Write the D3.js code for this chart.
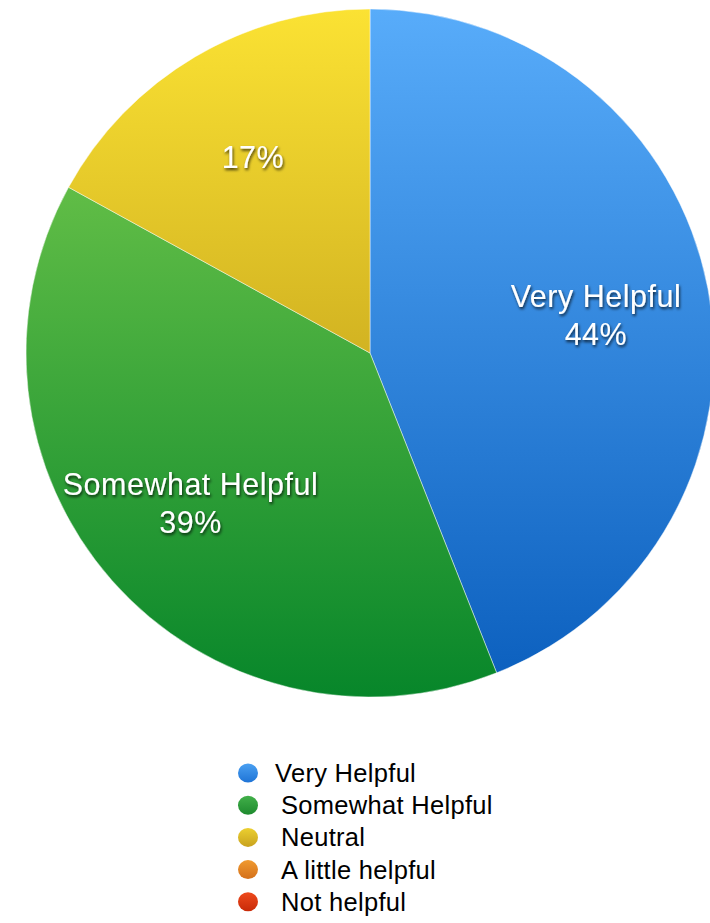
<!DOCTYPE html>
<html>
<head>
<meta charset="utf-8">
<script src="https://cdn.jsdelivr.net/npm/d3@7"></script>
<style>
  html, body { margin: 0; padding: 0; background: #fff; }
  svg { display: block; }
</style>
</head>
<body>
<svg id="chart" width="710" height="923"></svg>
<script>
// Survey answers and their shares (percent)
const categories = ["Very Helpful", "Somewhat Helpful", "Neutral", "A little helpful", "Not helpful"];
const values = [44, 39, 17, 0, 0];
// Gradient colour pairs (top, bottom) per category
const topColors = ["#58acfa", "#80d050", "#fbe233", "#f29a30", "#ee4a1c"];
const bottomColors = ["#0a5ebd", "#07862a", "#a98410", "#d8701a", "#cc2a08"];
// Legend dot colours (top, bottom)
const dotTop = ["#4aa0f2", "#42b04a", "#ecd030", "#f09a30", "#ee4a1c"];
const dotBottom = ["#1f74d6", "#1e8a2e", "#c8a21e", "#d4701a", "#c82a08"];

const W = 710, H = 923;
const cx = 370, cy = 353, r = 344;
const labelR = 230;
// small per-label nudges [dx, dy of first baseline]
const labelNudge = [[0, -3], [-7, -10], [0, 13], [0, 0], [0, 0]];

const svg = d3.select("#chart");
const defs = svg.append("defs");

categories.forEach((c, i) => {
  const g = defs.append("linearGradient")
    .attr("id", "slice" + i)
    .attr("gradientUnits", "userSpaceOnUse")
    .attr("x1", 0).attr("x2", 0)
    .attr("y1", -r).attr("y2", r);
  g.append("stop").attr("offset", "0%").attr("stop-color", topColors[i]);
  g.append("stop").attr("offset", "100%").attr("stop-color", bottomColors[i]);

  const d = defs.append("linearGradient")
    .attr("id", "dot" + i)
    .attr("x1", 0).attr("x2", 0).attr("y1", 0).attr("y2", 1);
  d.append("stop").attr("offset", "0%").attr("stop-color", dotTop[i]);
  d.append("stop").attr("offset", "100%").attr("stop-color", dotBottom[i]);
});

const shadow = defs.append("filter").attr("id", "txtShadow")
  .attr("x", "-20%").attr("y", "-40%").attr("width", "140%").attr("height", "180%");
shadow.append("feDropShadow")
  .attr("dx", 1).attr("dy", 2).attr("stdDeviation", 1.4)
  .attr("flood-color", "#000").attr("flood-opacity", 0.75);

const data = categories.map((c, i) => ({ name: c, value: values[i], idx: i }));

const pie = d3.pie().sort(null).value(d => d.value).startAngle(0).endAngle(2 * Math.PI);
const arcs = pie(data).filter(a => a.data.value > 0);

const arc = d3.arc().innerRadius(0).outerRadius(r);
const labelArc = d3.arc().innerRadius(2 * labelR - r).outerRadius(r);

const g = svg.append("g").attr("transform", `translate(${cx},${cy})`);

g.selectAll("path.slice")
  .data(arcs)
  .join("path")
  .attr("class", "slice")
  .attr("d", arc)
  .attr("fill", d => `url(#slice${d.data.idx})`)
  .attr("stroke", "rgba(255,255,255,0.45)")
  .attr("stroke-width", 1);

// Slice labels
const labels = g.selectAll("text.lbl")
  .data(arcs)
  .join("text")
  .attr("class", "lbl")
  .attr("text-anchor", "middle")
  .attr("font-family", "'Liberation Sans', Arial, Helvetica, sans-serif")
  .attr("font-size", 30.5)
  .attr("letter-spacing", 0.5)
  .attr("fill", "#fff")
  .attr("filter", "url(#txtShadow)")
  .attr("transform", d => {
    const [x, y] = labelArc.centroid(d);
    const [nx, ny] = labelNudge[d.data.idx];
    return `translate(${x + nx},${y + ny})`;
  });

labels.each(function (d) {
  const t = d3.select(this);
  const pct = d.data.value + "%";
  if (d.data.value >= 25) {
    t.append("tspan").attr("x", 0).attr("y", 0).text(d.data.name);
    t.append("tspan").attr("x", 0).attr("y", 38).text(pct);
  } else {
    t.append("tspan").attr("x", 0).attr("y", 0).text(pct);
  }
});

// Legend
const legend = svg.append("g").attr("transform", "translate(248,773)");
const rowH = 32.2;
const items = legend.selectAll("g.item")
  .data(data)
  .join("g")
  .attr("class", "item")
  .attr("transform", (d, i) => `translate(0,${i * rowH})`);

items.append("ellipse")
  .attr("rx", 10).attr("ry", 9.5)
  .attr("fill", d => `url(#dot${d.idx})`);

items.append("text")
  .attr("x", (d, i) => i === 0 ? 27 : 33)
  .attr("y", 9)
  .attr("font-family", "'Liberation Sans', Arial, Helvetica, sans-serif")
  .attr("font-size", 25.5)
  .attr("letter-spacing", 0.3)
  .attr("fill", "#000")
  .text(d => d.name);
</script>
</body>
</html>
